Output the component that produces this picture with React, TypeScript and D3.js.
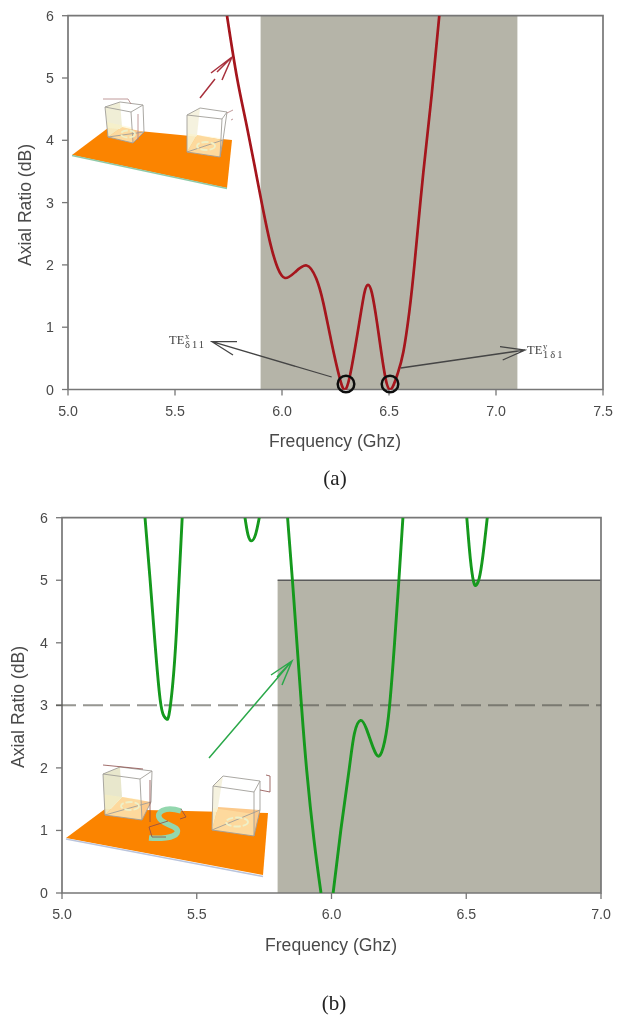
import React from "react";
import * as d3 from "d3";

const xTicksA = [5.0, 5.5, 6.0, 6.5, 7.0, 7.5];
const xTicksB = [5.0, 5.5, 6.0, 6.5, 7.0];
const yTicks = [0, 1, 2, 3, 4, 5, 6];

const curveA: [number, number][] = [
  [5.743, 6.0], [5.79, 5.0], [5.84, 4.15], [5.9, 3.09], [5.945, 2.35], [5.98, 1.95], [6.014, 1.79],
  [6.06, 1.88], [6.115, 1.99], [6.16, 1.78], [6.193, 1.39], [6.23, 0.78], [6.27, 0.18], [6.297, 0.0],
  [6.325, 0.35], [6.36, 1.05], [6.385, 1.55], [6.402, 1.68], [6.42, 1.55], [6.445, 1.05], [6.475, 0.35], [6.505, 0.0],
  [6.54, 0.25], [6.567, 0.6], [6.595, 1.25], [6.621, 2.08], [6.66, 3.47], [6.7, 4.75], [6.735, 6.0],
];
const curveB1: [number, number][] = [
  [5.308, 6.0], [5.327, 5.0], [5.345, 4.0], [5.364, 3.1], [5.378, 2.83], [5.388, 2.78], [5.397, 2.85], [5.41, 3.3], [5.425, 4.2], [5.446, 6.0],
];
const curveB2: [number, number][] = [[5.679, 6.0], [5.69, 5.73], [5.703, 5.63], [5.718, 5.73], [5.732, 6.0]];
const curveB3: [number, number][] = [
  [5.837, 6.0], [5.855, 5.0], [5.871, 4.04], [5.889, 2.97], [5.908, 1.96], [5.935, 0.85], [5.961, 0.0],
];
const curveB4: [number, number][] = [
  [6.006, 0.0], [6.035, 1.02], [6.065, 1.96], [6.085, 2.55], [6.108, 2.76], [6.13, 2.62], [6.155, 2.32], [6.177, 2.19],
  [6.197, 2.42], [6.215, 2.97], [6.234, 4.0], [6.25, 5.0], [6.265, 6.0],
];
const curveB5: [number, number][] = [[6.502, 6.0], [6.515, 5.35], [6.527, 4.98], [6.536, 4.92], [6.548, 5.03], [6.562, 5.4], [6.578, 6.0]];
const curvesB = [curveB1, curveB2, curveB3, curveB4, curveB5];

const GREY = "#b5b4a8";
const AXIS = "#777";
const TEXT = "#4a4a4a";
const FONT = "Liberation Sans, Arial, sans-serif";
const SERIF = "Liberation Serif, serif";

const xA = d3.scaleLinear().domain([5, 7.5]).range([68, 603]);
const yA = d3.scaleLinear().domain([0, 6]).range([389.5, 15.7]);
const xB = d3.scaleLinear().domain([5, 7]).range([62, 601]);
const yB = d3.scaleLinear().domain([0, 6]).range([893, 517.7]);

const lineOf = (x: d3.ScaleLinear<number, number>, y: d3.ScaleLinear<number, number>) =>
  d3.line<[number, number]>().x((d) => x(d[0])).y((d) => y(d[1])).curve(d3.curveNatural);

function Frame({ x, y, xTicks, labelY, labelX }: any) {
  const [x0, x1] = x.range();
  const [y0, y1] = y.range();
  return (
    <g fontFamily={FONT} fill={TEXT}>
      <path d={`M${x0},${y1}H${x1}V${y0}H${x0}Z`} fill="none" stroke={AXIS} strokeWidth={1.7} />
      {xTicks.map((t: number) => (
        <g key={t}>
          <line x1={x(t)} x2={x(t)} y1={y0} y2={y0 + 6} stroke={AXIS} strokeWidth={1.3} />
          <text x={x(t)} y={y0 + 26} fontSize={14.2} textAnchor="middle">{t.toFixed(1)}</text>
        </g>
      ))}
      {yTicks.map((t) => (
        <g key={t}>
          <line x1={x0 - 6} x2={x0} y1={y(t)} y2={y(t)} stroke={AXIS} strokeWidth={1.3} />
          <text x={x0 - 14} y={y(t) + 5} fontSize={14.2} textAnchor="end">{t}</text>
        </g>
      ))}
      <text x={labelX} y={labelY} fontSize={17.6} textAnchor="middle">Frequency (Ghz)</text>
    </g>
  );
}

function TE({ x, y, sup, sub }: any) {
  return (
    <g fontFamily={SERIF} fill="#444">
      <text x={x} y={y} fontSize={12.5}>TE</text>
      <text x={x + 16} y={y - 5} fontSize={8.5}>{sup}</text>
      <text x={x + 16} y={y + 4} fontSize={10.5} letterSpacing={2}>{sub}</text>
    </g>
  );
}

const pts = (q: number[][]) => q.map((v) => v.join(",")).join(" ");

function Box({ fl, fr, br, bl, tfl, tfr, tbr, tbl, wall }: any) {
  return (
    <g>
      <polygon points={pts([bl, br, tbr, tbl])} fill="#ffffff" />
      <polygon points={pts([fl, fr, br, bl])} fill="#fcc98a" />
      <polygon points={pts([fl, bl, tbl, tfl])} fill={wall} fillOpacity={0.9} />
      <polygon points={pts([fl, fr, [(fr[0] + tfr[0]) / 2, (fr[1] + tfr[1]) / 2], [(fl[0] + tfl[0]) / 2, (fl[1] + tfl[1]) / 2]])} fill="#fff3b8" fillOpacity={0.4} />
      <g stroke="#a09e98" strokeWidth={0.9} fill="none">
        <polygon points={pts([tfl, tfr, tbr, tbl])} />
        <polygon points={pts([fl, fr, br])} />
        <line x1={fl[0]} y1={fl[1]} x2={tfl[0]} y2={tfl[1]} />
        <line x1={fr[0]} y1={fr[1]} x2={tfr[0]} y2={tfr[1]} />
        <line x1={br[0]} y1={br[1]} x2={tbr[0]} y2={tbr[1]} />
      </g>
    </g>
  );
}

function Ring({ cx, cy, rx, ry }: any) {
  return <ellipse cx={cx} cy={cy} rx={rx} ry={ry} fill="none" stroke="#eef0c8" strokeWidth={1.8} strokeDasharray="7 2" />;
}

function InsetA() {
  return (
    <g>
      <polygon points="72,155 108,128 232,140 227,188" fill="#fb8405" />
      <line x1={72} y1={155.5} x2={227} y2={188.5} stroke="#8fc9a8" strokeWidth={1.3} />
      <Box fl={[108, 137]} fr={[133, 143]} br={[144, 132]} bl={[122, 127]} tfl={[105, 107]} tfr={[131, 112]} tbr={[143, 105]} tbl={[120, 102]} wall="#eeecd2" />
      <Ring cx={128} cy={134} rx={7} ry={3.5} />
      <Box fl={[187, 152]} fr={[220, 157]} br={[223, 140]} bl={[197, 135]} tfl={[187, 115]} tfr={[222, 119]} tbr={[227, 112]} tbl={[200, 108]} wall="#f4f1dc" />
      <Ring cx={206} cy={146} rx={9} ry={4} />
      <path d="M103,99H128L131,104M138,114V140M227,113L233,110M231,120L233,119" fill="none" stroke="#b08080" strokeWidth={0.8} />
    </g>
  );
}

function InsetB() {
  return (
    <g>
      <polygon points="66,838 105,809 268,813 263,875" fill="#fb8405" />
      <line x1={66} y1={839} x2={263} y2={876.5} stroke="#b9c4dc" strokeWidth={1.6} />
      <Box fl={[105, 815]} fr={[142, 820]} br={[151, 802]} bl={[122, 797]} tfl={[103, 774]} tfr={[140, 779]} tbr={[152, 771]} tbl={[120, 767]} wall="#e6e4c6" />
      <Ring cx={130} cy={806} rx={9} ry={4} />
      <Box fl={[212, 830]} fr={[254, 836]} br={[260, 810]} bl={[218, 807]} tfl={[213, 786]} tfr={[254, 792]} tbr={[260, 781]} tbl={[223, 776]} wall="#f4f1dc" />
      <Ring cx={237} cy={822} rx={11} ry={4.5} />
      <path d="M181,811 C165,806 155,812 160,819 C166,826 180,826 177,833 C174,838 160,839 149,838" fill="none" stroke="#93d7ae" strokeWidth={5.5} />
      <path d="M103,765L143,769M150,780V822M166,837H152L149,827L168,821M181,809L186,817L180,819M260,790L270,792V776L266,775" fill="none" stroke="#8a4a48" strokeWidth={0.8} />
    </g>
  );
}

export default function App() {
  return (
    <svg width={623} height={1016} style={{ position: "absolute", left: 0, top: 0, background: "#fff" }}>
      <defs>
        <filter id="soft" x="0" y="0" width="100%" height="100%">
          <feGaussianBlur stdDeviation={0.45} />
        </filter>
        <clipPath id="clipA"><rect x={68} y={15.7} width={535} height={374} /></clipPath>
        <clipPath id="clipB"><rect x={62} y={517.7} width={539} height={375.3} /></clipPath>
      </defs>
      <g filter="url(#soft)">
        {/* panel a */}
        <rect x={xA(5.9)} y={yA(6)} width={xA(7.1) - xA(5.9)} height={yA(0) - yA(6)} fill={GREY} />
        <InsetA />
        <Frame x={xA} y={yA} xTicks={xTicksA} labelY={447} labelX={335} />
        <text transform="translate(31,205) rotate(-90)" fontFamily={FONT} fontSize={17.6} fill={TEXT} textAnchor="middle">Axial Ratio (dB)</text>
        <path d={lineOf(xA, yA)(curveA) || ""} clipPath="url(#clipA)" fill="none" stroke="#a5121c" strokeWidth={2.7} />
        <circle cx={346} cy={384} r={8.3} fill="none" stroke="#111" strokeWidth={2.5} />
        <circle cx={390} cy={384} r={8.3} fill="none" stroke="#111" strokeWidth={2.5} />
        <g stroke="#444" strokeWidth={1.3} fill="none">
          <path d="M331.7,377L212,341.7M237,341.7H212L233,355" />
          <path d="M400.7,368L525,350M500,346.7L525,350L502.7,360" />
        </g>
        <path d="M200,98L215,79M211,73L232,57M222,80L232,57M217,72L232,57" fill="none" stroke="#a8303c" strokeWidth={1.5} />
        <TE x={169} y={344} sup="x" sub="δ11" />
        <TE x={527} y={354} sup="y" sub="1δ1" />
        <text x={335} y={485} fontFamily={SERIF} fontSize={21} fill="#222" textAnchor="middle">(a)</text>

        {/* panel b */}
        <rect x={xB(5.8)} y={yB(5)} width={xB(7) - xB(5.8)} height={yB(0) - yB(5)} fill={GREY} />
        <line x1={xB(5.8)} x2={xB(7)} y1={yB(5)} y2={yB(5)} stroke="#5a5a5a" strokeWidth={1.5} />
        <InsetB />
        <Frame x={xB} y={yB} xTicks={xTicksB} labelY={951} labelX={331} />
        <text transform="translate(24,707) rotate(-90)" fontFamily={FONT} fontSize={17.6} fill={TEXT} textAnchor="middle">Axial Ratio (dB)</text>
        <line x1={56} x2={601} y1={yB(3)} y2={yB(3)} stroke="#55554f" strokeOpacity={0.62} strokeWidth={2} strokeDasharray="20 7" />
        {curvesB.map((c, i) => (
          <path key={i} d={lineOf(xB, yB)(c) || ""} clipPath="url(#clipB)" fill="none" stroke="#12991f" strokeWidth={2.9} />
        ))}
        <path d="M209,758L292,661M271,675L292,661L282,685M277,677L292,661" fill="none" stroke="#2ba84a" strokeWidth={1.5} />
        <text x={334} y={1010} fontFamily={SERIF} fontSize={21} fill="#222" textAnchor="middle">(b)</text>
      </g>
    </svg>
  );
}
